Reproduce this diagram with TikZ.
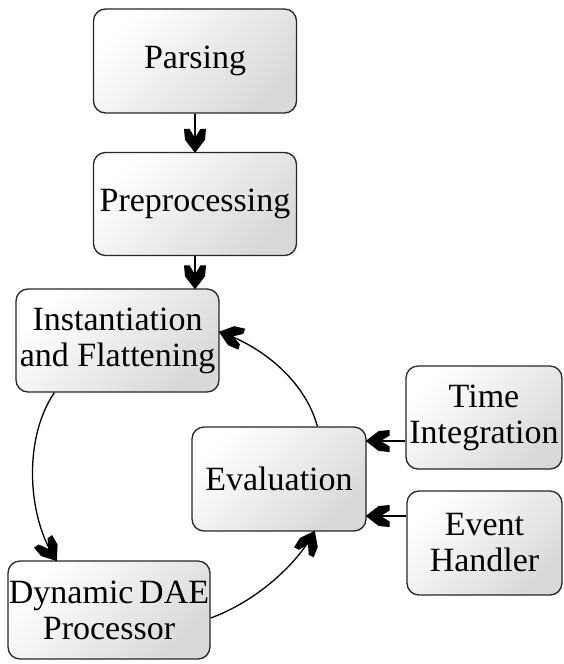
\documentclass[tikz,border=0pt]{standalone}
\usepackage{fontspec}
\setmainfont{Liberation Serif}
\usetikzlibrary{calc,decorations.markings}
\tikzset{
  box/.style={draw=black!85, line width=1.3pt, rounded corners=12pt,
    top color=white, bottom color=black!15, shading angle=45,
    inner sep=0pt, align=center,
    font=\fontsize{34}{36}\selectfont},
  headmark/.style={postaction={decorate},
    decoration={markings,
      mark=at position 0.999 with {\fill[black] (1pt,0pt) -- (-12pt,10pt) -- (-23pt,11pt) -- (-23pt,5.5pt) -- (-14pt,0pt) -- (-23pt,-5.5pt) -- (-23pt,-11pt) -- (-12pt,-10pt) -- cycle;}}},
  conn/.style={line width=1.3pt, headmark}
}
\begin{document}
\begin{tikzpicture}[x=1pt,y=-1pt]
\useasboundingbox (0,0) rectangle (563,664);
\node[box, minimum width=203pt, minimum height=104pt] (parse) at (195,61) {Parsing};
\node[box, minimum width=203pt, minimum height=103pt] (prep) at (195,204) {Preprocessing};
\node[box, minimum width=203pt, minimum height=103pt] (inst) at (117.5,340.5) {Instantiation\\and Flattening};
\node[box, minimum width=174pt, minimum height=104pt] (eval) at (279,479) {Evaluation};
\node[box, minimum width=156pt, minimum height=103pt] (time) at (484,417.5) {Time\\Integration};
\node[box, minimum width=155pt, minimum height=104pt] (event) at (484.5,543) {Event\\Handler};
\node[box, minimum width=202pt, minimum height=98pt] (dae) at (109,610) {Dynamic\,DAE\\Processor};
\draw[conn] (parse.south) -- (prep.north);
\draw[conn] (prep.south) -- (prep.south |- inst.north);
\draw[conn] ($(inst.south west)+(39,0)$) .. controls (22,440) and (28,520) .. ($(dae.north west)+(49,0)$);
\draw[conn] (dae.east |- 0,618) .. controls (260,600) and (300,560) .. ($(eval.south west)+(123,0)$);
\draw[conn] ($(eval.north west)+(126,0)$) .. controls (305,380) and (260,345) .. (inst.east |- 0,332);
\draw[conn] (time.west |- 0,441) -- (eval.east |- 0,441);
\draw[conn] (event.west |- 0,516) -- (eval.east |- 0,516);
\end{tikzpicture}
\end{document}
